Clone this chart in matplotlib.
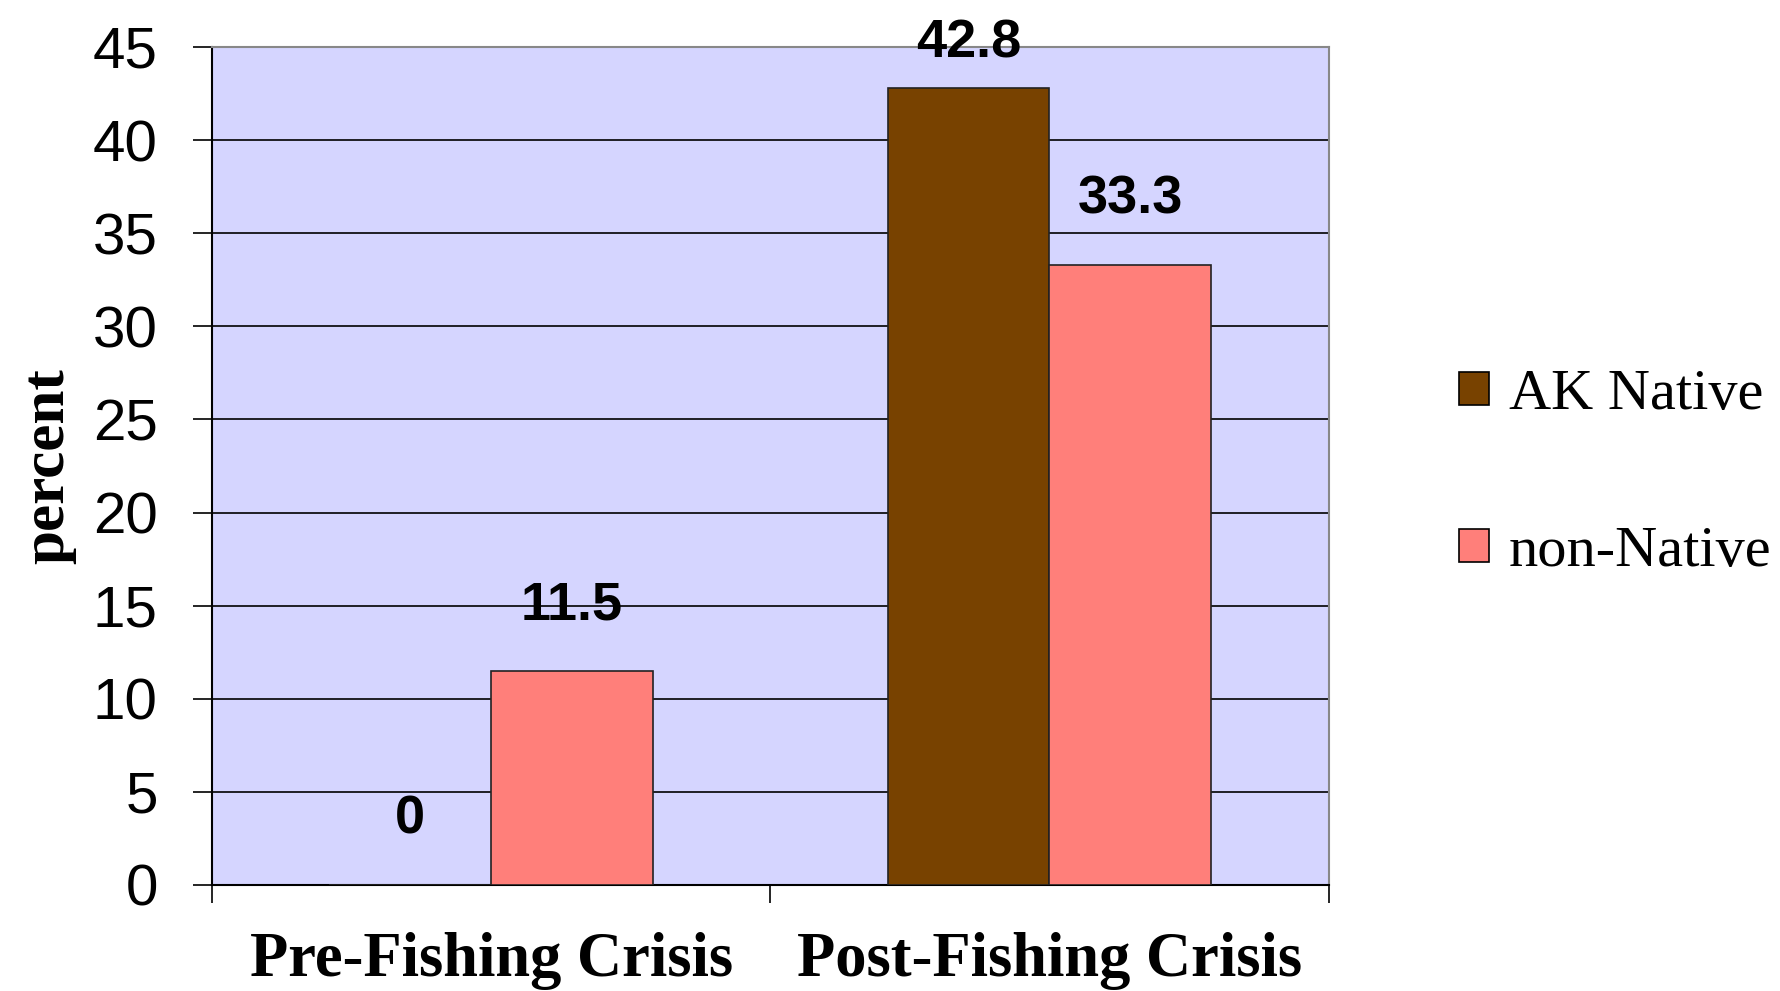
"""
Percent by group, before and after the fishing crisis
"""
import matplotlib
matplotlib.use('Agg')
import matplotlib.pyplot as plt
import numpy as np
from matplotlib.patches import Patch

# Data
categories = ['Pre-Fishing Crisis', 'Post-Fishing Crisis']
series_names = ['AK Native', 'non-Native']
ak_native = [0, 42.8]
non_native = [11.5, 33.3]
y_ticks = [0, 5, 10, 15, 20, 25, 30, 35, 40, 45]

# Colors
bg_color = '#D5D5FF'
ak_color = '#784200'
non_color = '#FF7F7A'

fig = plt.figure(figsize=(17.81, 9.91), dpi=100)
ax = fig.add_axes([0.119, 0.107, 0.627, 0.8456])
ax.set_facecolor(bg_color)

x = np.arange(len(categories))
w = 0.29

bars1 = ax.bar(x - w / 2, ak_native, w, color=ak_color, edgecolor='#222222', linewidth=1.2, zorder=3)
bars2 = ax.bar(x + w / 2, non_native, w, color=non_color, edgecolor='#222222', linewidth=1.2, zorder=3)

# Value labels above bars (the tallest one is pushed down to stay inside the chart)
for bars, vals in [(bars1, ak_native), (bars2, non_native)]:
    for b, v in zip(bars, vals):
        off = 47 if v < 40 else 32
        ax.annotate(f'{v:g}', xy=(b.get_x() + b.get_width() / 2, v), xytext=(0, off),
                    textcoords='offset points', ha='center', va='center',
                    fontsize=39, fontweight='bold', family='Liberation Sans', zorder=5)

ax.set_xlim(-0.5, 1.5)
ax.set_ylim(0, 45)
ax.set_yticks(y_ticks)
ax.set_yticklabels([str(t) for t in y_ticks], fontsize=42, family='Liberation Sans')
ax.tick_params(axis='y', direction='out', length=14, width=1.2, pad=25, colors='black')

# category boundary ticks, labels at centers
ax.set_xticks([-0.5, 0.5, 1.5])
ax.set_xticklabels(['', '', ''])
ax.tick_params(axis='x', which='major', direction='out', length=13, width=1.2)
ax.set_xticks(x, minor=True)
ax.set_xticklabels(categories, minor=True, fontsize=45, fontweight='bold', family='Liberation Serif')
ax.tick_params(axis='x', which='minor', length=0, pad=34)

ax.grid(axis='y', color='black', linewidth=1.2, zorder=1)
ax.set_axisbelow(True)

ax.set_ylabel('percent', fontsize=44, fontweight='bold', family='Liberation Serif', labelpad=12)

for side in ['top', 'right']:
    ax.spines[side].set_color('#888888')
    ax.spines[side].set_linewidth(1.5)
for side in ['left', 'bottom']:
    ax.spines[side].set_color('black')
    ax.spines[side].set_linewidth(1.5)

handles = [Patch(facecolor=ak_color, edgecolor='black', linewidth=1.2),
           Patch(facecolor=non_color, edgecolor='black', linewidth=1.2)]
fig.legend(handles, series_names, loc='center left', bbox_to_anchor=(0.79, 0.522),
           frameon=False, prop={'family': 'Liberation Serif', 'size': 42},
           handlelength=0.5, handleheight=0.5, handletextpad=0.35, labelspacing=1.8)

plt.savefig('out.png', dpi=100)
plt.close()
